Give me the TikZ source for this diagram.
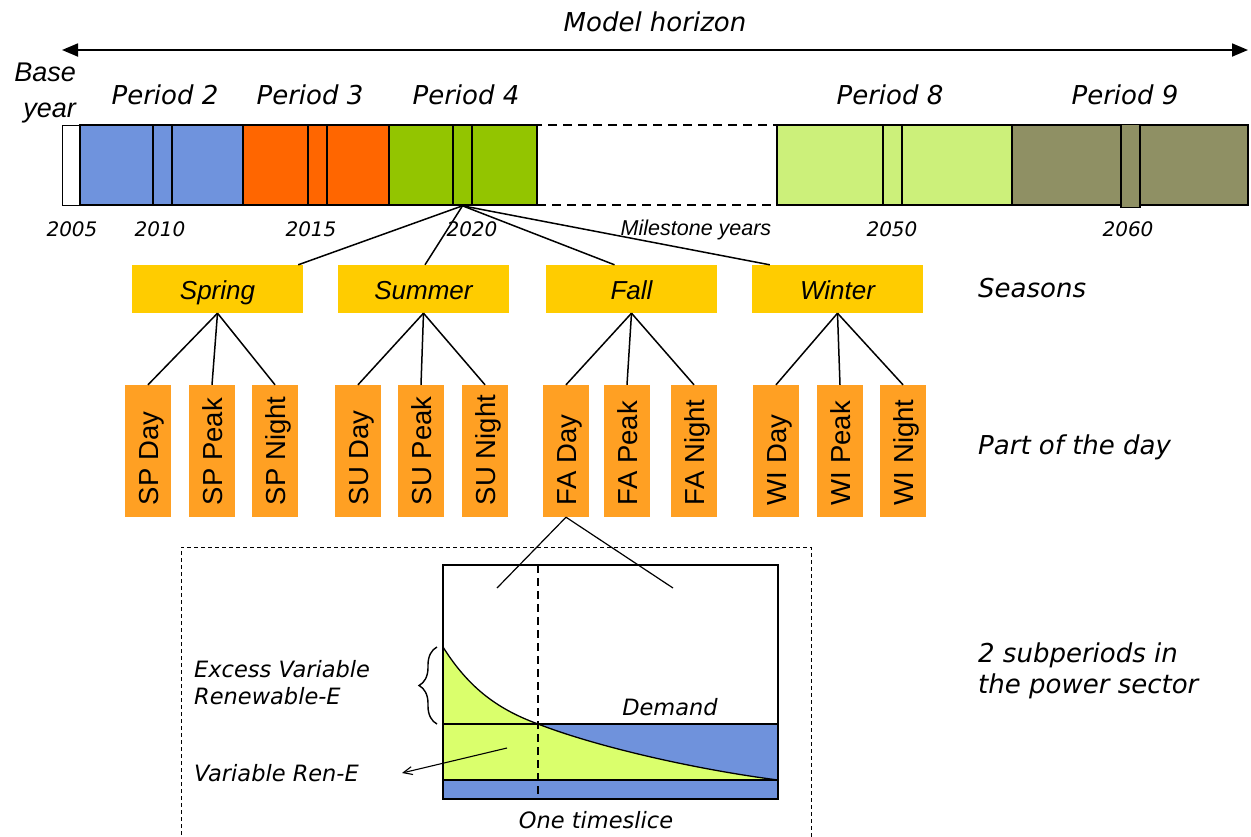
\documentclass[tikz,border=0pt]{standalone}
\usepackage{fontspec}
\setmainfont{Liberation Sans}
\newfontfamily\vfont{DejaVu Sans}
\usetikzlibrary{arrows.meta,decorations.pathreplacing}
\definecolor{pblue}{HTML}{6F93DD}
\definecolor{porange}{HTML}{FF6600}
\definecolor{pgreen}{HTML}{93C500}
\definecolor{plight}{HTML}{CCF07A}
\definecolor{polive}{HTML}{8F9064}
\definecolor{seasonc}{HTML}{FFCC00}
\definecolor{dayc}{HTML}{FFA023}
\definecolor{cgreen}{HTML}{DAFF6C}
\definecolor{cblue}{HTML}{6F92DC}
\begin{document}
\begin{tikzpicture}[x=1pt,y=-1pt,
  seg/.style={draw, line width=1.6pt, inner sep=0pt, minimum height=80pt},
  subseg/.style={draw, line width=1.6pt, inner sep=0pt, minimum height=80pt, minimum width=19pt},
  seasonbox/.style={fill=seasonc, inner sep=0pt, minimum width=171pt, minimum height=48pt, text height=24pt, text depth=4pt, font=\fontsize{26}{30}\selectfont\itshape},
  daybox/.style={fill=dayc, inner sep=0pt, minimum width=46pt, minimum height=132pt},
  daytxt/.style={rotate=90, anchor=base west, inner sep=0pt, font=\fontsize{27.5}{30}\selectfont},
  conn/.style={line width=1.5pt},
  vlab/.style={font=\vfont\itshape\fontsize{26}{30}\selectfont, inner sep=0pt},
  ylab/.style={font=\vfont\itshape\fontsize{20}{24}\selectfont, inner sep=0pt},
  clab/.style={font=\vfont\itshape\fontsize{22.5}{27}\selectfont, inner sep=0pt, align=left},
]
\useasboundingbox (0,0) rectangle (1251,836);

% model horizon
\coordinate (mhl) at (62,50);
\coordinate (mhr) at (1248,50);
\draw[line width=1.8pt, {Triangle[length=16pt,width=13pt]}-{Triangle[length=16pt,width=13pt]}] (mhl) -- (mhr);
\node[vlab] (mh) at (655,22) {Model horizon};

% labels above bar
\node[font=\fontsize{27}{36}\selectfont\itshape, align=right, anchor=east, inner sep=0pt] (base) at (76,93) {Base\\year};
\node[vlab] (lp2) at (165,95) {Period 2};
\node[vlab] (lp3) at (310,95) {Period 3};
\node[vlab] (lp4) at (466,95) {Period 4};
\node[vlab] (lp8) at (890,95) {Period 8};
\node[vlab] (lp9) at (1125,95) {Period 9};

% timeline bar
\node[draw, dashed, dash pattern=on 9pt off 6pt, line width=1.8pt, inner sep=0pt, minimum width=240pt, minimum height=80pt] (gap) at (657,165) {};
\node[seg, fill=white, line width=1pt, minimum width=18pt] (p1) at (71,165) {};
\node[seg, fill=pblue, minimum width=163pt] (p2) at (161.5,165) {};
\node[subseg, fill=pblue] (p2s) at (162.5,165) {};
\node[seg, fill=porange, minimum width=146pt] (p3) at (316,165) {};
\node[subseg, fill=porange] (p3s) at (317.5,165) {};
\node[seg, fill=pgreen, minimum width=148pt] (p4) at (463,165) {};
\node[subseg, fill=pgreen] (p4s) at (462.5,165) {};
\node[seg, fill=plight, minimum width=235pt] (p8) at (894.5,165) {};
\node[subseg, fill=plight] (p8s) at (892.5,165) {};
\node[seg, fill=polive, minimum width=236pt] (p9) at (1130,165) {};
\node[subseg, fill=polive, minimum height=83pt] (p9s) at (1130.5,166) {};

% years
\node[ylab] (y05) at (72,229) {2005};
\node[ylab] (y10) at (160,229) {2010};
\node[ylab] (y15) at (311,229) {2015};
\node[ylab] (y20) at (472,229) {2020};
\node[font=\fontsize{21.5}{24}\selectfont\itshape, inner sep=0pt] (mile) at (696,230) {Milestone years};
\node[ylab] (y50) at (892,229) {2050};
\node[ylab] (y60) at (1128,229) {2060};

% seasons
\node[seasonbox] (spring) at (217.5,289) {Spring};
\node[seasonbox] (summer) at (423.5,289) {Summer};
\node[seasonbox] (fall) at (631.5,289) {Fall};
\node[seasonbox] (winter) at (837.5,289) {Winter};

\draw[conn] (p4s.south) -- ([xshift=-5pt]spring.north east);
\draw[conn] (p4s.south) -- ([xshift=1.5pt]summer.north);
\draw[conn] (p4s.south) -- ([xshift=-17pt]fall.north);
\draw[conn] (p4s.south) -- ([xshift=18pt]winter.north west);

% parts of the day
\foreach \n/\x/\t in {spday/148/SP Day, sppeak/212/SP Peak, spnight/275/SP Night,
  suday/358/SU Day, supeak/421/SU Peak, sunight/485/SU Night,
  faday/566/FA Day, fapeak/627/FA Peak, fanight/694/FA Night,
  widay/776/WI Day, wipeak/840/WI Peak, winight/903/WI Night}{
  \node[daybox] (\n) at (\x,451) {};
  \node[daytxt] (\n t) at ([xshift=10pt,yshift=12pt]\n.south) {\t};
}

\foreach \s/\a/\b/\c in {spring/spday/sppeak/spnight, summer/suday/supeak/sunight,
  fall/faday/fapeak/fanight, winter/widay/wipeak/winight}{
  \draw[conn] (\s.south) -- (\a.north);
  \draw[conn] (\s.south) -- (\b.north);
  \draw[conn] (\s.south) -- (\c.north);
}

% right-hand labels
\node[vlab, anchor=west] (lseas) at (978,288) {Seasons};
\node[vlab, anchor=west] (lpart) at (978,447) {Part of the day};
\node[vlab, anchor=west, align=left, font=\vfont\itshape\fontsize{26}{31}\selectfont] (lsub) at (978,671) {2 subperiods in\\the power sector};

% dashed frame
\draw[line width=0.9pt, dash pattern=on 4pt off 3pt] (181,842) -- (181,547) -- (811,547) -- (811,842);

% chart fills
\fill[cblue] (443,724) rectangle (778,799);
\fill[cgreen] (443,647) .. controls (470,690) and (500,710) .. (538,724)
  .. controls (600,748) and (700,770) .. (778,780) -- (443,780) -- cycle;
\draw[line width=1.4pt] (443,724) -- (778,724);
\draw[line width=1.4pt] (443,780) -- (778,780);
\draw[line width=1.3pt] (443,647) .. controls (470,690) and (500,710) .. (538,724)
  .. controls (600,748) and (700,770) .. (778,780);
\draw[line width=1.6pt, dashed, dash pattern=on 8pt off 5pt] (538,565) -- (538,799);
\node[draw, line width=2pt, inner sep=0pt, minimum width=335pt, minimum height=234pt] (chart) at (610.5,682) {};

\coordinate (fl) at (497,588);
\coordinate (fr) at (673,588);
\draw[line width=1.2pt] (faday.south) -- (fl);
\draw[line width=1.2pt] (faday.south) -- (fr);

% chart labels
\node[clab, anchor=west] (exc) at (194,683) {Excess Variable\\Renewable-E};
\node[clab, anchor=west] (vre) at (194,773) {Variable Ren-E};
\node[clab] (dem) at (670,707) {Demand};
\node[clab] (one) at (596,820) {One timeslice};

\draw[decorate, decoration={brace, amplitude=18pt}, line width=1.4pt] (437,724) -- (437,647);
\coordinate (va) at (507,748);
\coordinate (vb) at (402,773);
\draw[line width=1.1pt, -{Straight Barb[length=9pt,width=8pt]}] (va) -- (vb);
\end{tikzpicture}
\end{document}
